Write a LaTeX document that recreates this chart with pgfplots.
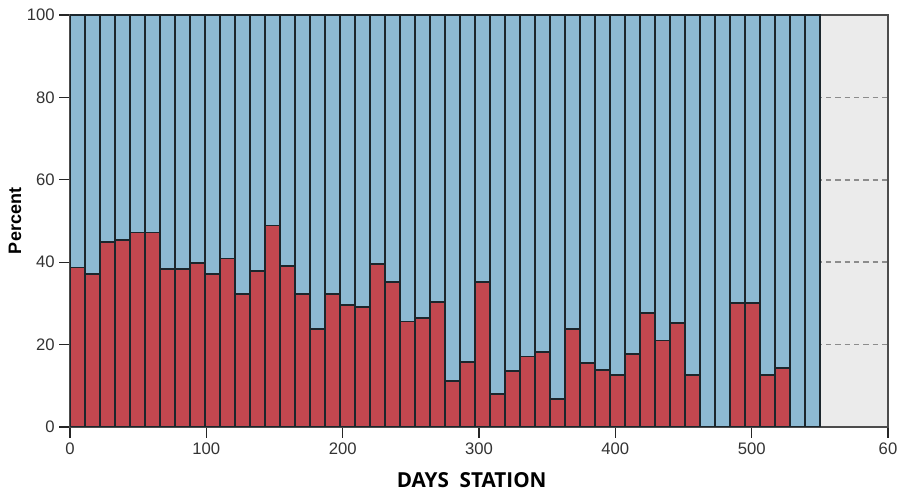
\documentclass[border=0pt]{standalone}
\usepackage{fontspec}
\setmainfont{Liberation Sans}
\newfontfamily\labelfont{Open Sans}
\usepackage{pgfplots}
\pgfplotsset{compat=1.18}
\usepackage{pgfplotstable}

\definecolor{barred}{HTML}{C2474F}
\definecolor{barblue}{HTML}{8DBAD3}
\definecolor{baredge}{HTML}{1B262C}
\definecolor{bggray}{HTML}{EBEBEB}

% bins of 11 days, share of each group in percent
\pgfplotstableread{
x     red   blue
5.5   38.7  61.3
16.5  37.1  62.9
27.5  44.9  55.1
38.5  45.4  54.6
49.5  47.2  52.8
60.5  47.2  52.8
71.5  38.3  61.7
82.5  38.3  61.7
93.5  39.9  60.1
104.5 37.1  62.9
115.5 40.9  59.1
126.5 32.3  67.7
137.5 37.9  62.1
148.5 48.9  51.1
159.5 39.1  60.9
170.5 32.3  67.7
181.5 23.7  76.3
192.5 32.3  67.7
203.5 29.6  70.4
214.5 29.2  70.8
225.5 39.5  60.5
236.5 35.2  64.8
247.5 25.6  74.4
258.5 26.5  73.5
269.5 30.4  69.6
280.5 11.1  88.9
291.5 15.7  84.3
302.5 35.1  64.9
313.5 8.0   92.0
324.5 13.5  86.5
335.5 17.1  82.9
346.5 18.2  81.8
357.5 6.7   93.3
368.5 23.7  76.3
379.5 15.5  84.5
390.5 13.8  86.2
401.5 12.7  87.3
412.5 17.7  82.3
423.5 27.6  72.4
434.5 21.0  79.0
445.5 25.3  74.7
456.5 12.7  87.3
467.5 0     100
478.5 0     100
489.5 30.0  70.0
500.5 30.0  70.0
511.5 12.7  87.3
522.5 14.3  85.7
533.5 0     100
544.5 0     100
}\stations

\begin{document}
\begin{tikzpicture}
\begin{axis}[
    width=613.5pt, height=309pt,
    scale only axis,
    xmin=0, xmax=600,
    ymin=0, ymax=100,
    xtick={0,100,...,600},
    xticklabels={0,100,200,300,400,500,60},
    ytick={0,20,...,100},
    tick align=outside,
    xtick pos=bottom, ytick pos=left,
    major tick length=8pt,
    tick style={black!85, line width=0.8pt},
    axis line style={black!70, line width=0.9pt},
    ymajorgrids,
    grid style={black!45, line width=1.3pt, dash pattern=on 4pt off 3pt},
    axis background/.style={fill=bggray},
    tick label style={font=\fontsize{12.5}{14}\selectfont, text=black!80},
    /pgf/number format/assume math mode=true,
    ybar stacked,
    bar width=11,
    xlabel={\labelfont\bfseries DAYS\ \ STATION},
    xlabel style={at={(rel axis cs:0.491,-0.1286)}, anchor=center,
        font=\fontsize{15.5}{17}\selectfont},
    ylabel={\bfseries Percent},
    ylabel style={at={(rel axis cs:-0.0672,0.5)}, anchor=center,
        font=\fontsize{13.5}{15}\selectfont},
]
\addplot[fill=barred, draw=baredge, line width=1.4pt] table[x=x, y=red] {\stations};
\addplot[fill=barblue, draw=baredge, line width=1.4pt] table[x=x, y=blue] {\stations};
\coordinate (bbsw) at (rel axis cs:-0.0856,-0.1578);
\coordinate (bbne) at (rel axis cs:1.011,1.0364);
\end{axis}
\pgfresetboundingbox
\path[use as bounding box] (bbsw) rectangle (bbne);
\end{tikzpicture}
\end{document}
